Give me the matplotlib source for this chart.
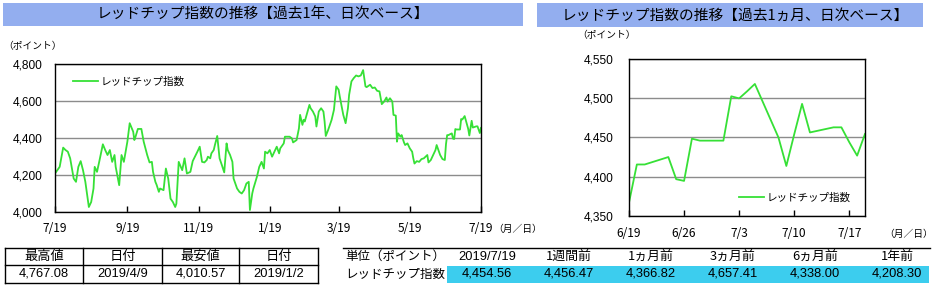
import datetime as dt
import matplotlib
matplotlib.use("Agg")
import matplotlib.pyplot as plt
from matplotlib.patches import Rectangle
from matplotlib.lines import Line2D
from matplotlib.ticker import FixedLocator, FuncFormatter

plt.rcParams['font.family'] = ['Noto Sans CJK JP', 'DejaVu Sans']

# ---------------- data ----------------
series_name = 'レッドチップ指数'
title_year = 'レッドチップ指数の推移【過去1年、日次ベース】'
title_month = 'レッドチップ指数の推移【過去1ヵ月、日次ベース】'
unit_label = '（ポイント）'
date_unit_label = '（月／日）'

year_start = '2018-07-19'
year_day_offsets = [
    0, 4, 7, 9, 11, 13, 16, 18, 20, 22, 24, 26, 29, 31, 33, 34, 36, 38, 41, 43,
    45, 47, 49, 51, 52, 55, 57, 59, 62, 64, 67, 68, 69, 71, 74, 76, 79, 81, 83, 84,
    86, 87, 89, 90, 93, 95, 97, 99, 101, 103, 104, 106, 109, 111, 113, 116, 118, 122, 124,
    126, 128, 130, 131, 133, 134, 136, 137, 139, 141, 143, 145, 147, 148, 150, 152, 153, 156, 158, 160,
    162, 164, 166, 167, 169, 170, 173, 175, 177, 179, 180, 182, 184, 186, 188, 190, 192, 193, 196, 197,
    201, 203, 204, 207, 209, 210, 212, 213, 214, 216, 218, 219, 221, 223, 224, 226, 228, 230, 231, 232,
    234, 236, 237, 239, 240, 241, 243, 244,
    247, 249, 251, 252, 254, 256, 258, 260, 262, 264, 266, 267, 270, 272, 274, 276, 278, 280, 282, 284,
    285, 287, 289, 290, 292, 293, 294, 296, 297, 299, 300, 302, 304, 306, 307, 308, 310, 312, 314, 316,
    319, 320, 322, 324, 326, 327, 329, 330, 332, 334,
    335, 336, 337, 340, 341, 342, 343, 344, 347, 348, 349, 350, 351, 354, 355, 356, 357, 358, 361, 362,
    363, 364, 365]
year_values = [
    4208.30, 4244, 4348, 4335, 4326, 4290, 4181, 4163, 4244, 4275, 4226, 4163, 4027, 4054, 4127, 4244, 4217, 4275, 4366, 4335,
    4308, 4335, 4271, 4308, 4244, 4145, 4308, 4271, 4380, 4480, 4434, 4389, 4407, 4449, 4449, 4380, 4308, 4268, 4271, 4217,
    4163, 4148, 4109, 4127, 4118, 4235, 4181, 4072, 4054, 4027, 4045, 4271, 4226, 4290, 4208, 4217, 4275, 4326, 4353,
    4271, 4268, 4281, 4299, 4290, 4317, 4335, 4362, 4411, 4290, 4253, 4214, 4371, 4335, 4308, 4271, 4181, 4127, 4109, 4100,
    4118, 4154, 4163, 4010.57, 4100, 4127, 4190, 4244, 4271, 4235, 4326, 4317, 4335, 4299, 4326, 4353, 4317, 4344, 4371, 4407,
    4407, 4398, 4376, 4389, 4452, 4525, 4471, 4498, 4489, 4534, 4579, 4561, 4543, 4516, 4462, 4543, 4561, 4543, 4489, 4411,
    4443, 4480, 4498, 4552, 4615, 4679, 4661, 4624,
    4525, 4480, 4561, 4633, 4706, 4724, 4738, 4733, 4738, 4767.08, 4679, 4675, 4688, 4670, 4673, 4655, 4652, 4583, 4597, 4619,
    4597, 4615, 4597, 4525, 4521, 4380, 4425, 4407, 4416, 4376, 4362, 4371, 4344, 4326, 4290, 4262, 4275, 4271, 4286, 4290,
    4308, 4268, 4281, 4308, 4335, 4362, 4326, 4308, 4286, 4281,
    4366.82, 4415.5, 4415.5, 4425, 4396.7, 4394.5, 4448.5, 4446, 4446, 4502.7, 4500, 4509, 4518.5, 4450, 4413.6, 4454, 4493, 4456.47, 4463, 4463,
    4444, 4426.8, 4454.56]

month_dates = ['2019-06-19', '2019-06-20', '2019-06-21', '2019-06-24', '2019-06-25', '2019-06-26',
               '2019-06-27', '2019-06-28', '2019-07-01', '2019-07-02', '2019-07-03', '2019-07-04',
               '2019-07-05', '2019-07-08', '2019-07-09', '2019-07-10', '2019-07-11', '2019-07-12',
               '2019-07-15', '2019-07-16', '2019-07-17', '2019-07-18', '2019-07-19']
month_values = [4366.82, 4415.5, 4415.5, 4425, 4396.7, 4394.5,
                4448.5, 4446, 4446, 4502.7, 4500, 4509,
                4518.5, 4450, 4413.6, 4454, 4493, 4456.47,
                4463, 4463, 4444, 4426.8, 4454.56]

year_xticks = ['2018-07-19', '2018-09-19', '2018-11-19', '2019-01-19', '2019-03-19', '2019-05-19', '2019-07-19']
year_yticks = [4000, 4200, 4400, 4600, 4800]
month_xticks = ['2019-06-19', '2019-06-26', '2019-07-03', '2019-07-10', '2019-07-17']
month_xlim = ['2019-06-19', '2019-07-19']
month_yticks = [4350, 4400, 4450, 4500, 4550]

stats_headers = ['最高値', '日付', '最安値', '日付']
stats_values = ['4,767.08', '2019/4/9', '4,010.57', '2019/1/2']

cmp_row_header = '単位（ポイント）'
cmp_headers = ['2019/7/19', '1週間前', '1ヵ月前', '3ヵ月前', '6ヵ月前', '1年前']
cmp_values = [4454.56, 4456.47, 4366.82, 4657.41, 4338.00, 4208.30]

# ---------------- styles ----------------
W, H = 935, 287
GREEN = '#36E036'
BAR = '#93AEEF'
CYAN = '#3CCDEE'
GRID = '#8C8C8C'
NUMFONT = 'Liberation Sans'


def d(s):
    return dt.datetime.strptime(s, '%Y-%m-%d')


def fx(px):
    return px / W


def fy(py):
    return 1 - py / H


def md_fmt(v, pos=None):
    import matplotlib.dates as mdates
    t = mdates.num2date(v)
    return f'{t.month}/{t.day}'


fig = plt.figure(figsize=(W / 100, H / 100), dpi=100)

# title bars
for (x0, x1, y0, y1, txt, cx) in [(3, 523, 3, 26, title_year, 263),
                                   (537, 923, 3, 27, title_month, 735)]:
    fig.patches.append(Rectangle((fx(x0), fy(y1)), fx(x1 - x0), (y1 - y0) / H,
                                 transform=fig.transFigure, facecolor=BAR, edgecolor='none'))
    fig.text(fx(cx), fy((y0 + y1) / 2 + 0.5), txt, ha='center', va='center', fontsize=10.6, color='black')


def style_axes(ax, yticks, xticks, ylab_pad, xlab_pad):
    for sp in ax.spines.values():
        sp.set_color('black')
        sp.set_linewidth(1.0)
    ax.set_yticks(yticks)
    ax.set_yticklabels([f'{v:,}' for v in yticks], fontfamily=NUMFONT, fontsize=8.6)
    ax.yaxis.grid(True, color=GRID, linewidth=1.0)
    ax.set_axisbelow(True)
    ax.tick_params(axis='y', length=0, pad=ylab_pad)
    ax.xaxis.set_major_locator(FixedLocator([matplotlib.dates.date2num(d(s)) for s in xticks]))
    ax.xaxis.set_major_formatter(FuncFormatter(md_fmt))
    ax.tick_params(axis='x', direction='in', length=4, width=1, pad=xlab_pad, labelsize=8.6)
    ax.set_facecolor('white')


# ---------------- year chart ----------------
ax1 = fig.add_axes([fx(55), fy(212), (481 - 55) / W, (212 - 64) / H])
base = d(year_start)
ydates = [base + dt.timedelta(days=o) for o in year_day_offsets]
ax1.plot(ydates, year_values, color=GREEN, linewidth=1.3, label=series_name)
ax1.set_xlim(d(year_xticks[0]), d(year_xticks[-1]))
ax1.set_ylim(year_yticks[0], year_yticks[-1])
style_axes(ax1, year_yticks, year_xticks, ylab_pad=9, xlab_pad=7)
ax1.legend(loc='center left', bbox_to_anchor=((73 - 55) / 426, (212 - 82) / 148), frameon=False,
           fontsize=7.6, handlelength=2.4, handletextpad=0.25, borderpad=0, borderaxespad=0)
fig.text(fx(3), fy(46), unit_label, fontsize=7, ha='left', va='center')
fig.text(fx(493), fy(229), date_unit_label, fontsize=7, ha='left', va='center')

# ---------------- month chart ----------------
ax2 = fig.add_axes([fx(629), fy(215.7), (865 - 629) / W, (215.7 - 59.3) / H])
mdates_list = [d(s) for s in month_dates]
ax2.plot(mdates_list, month_values, color=GREEN, linewidth=1.3, label=series_name)
ax2.set_xlim(d(month_xlim[0]), d(month_xlim[1]))
ax2.set_ylim(month_yticks[0], month_yticks[-1])
style_axes(ax2, month_yticks, month_xticks, ylab_pad=11, xlab_pad=8)
ax2.legend(loc='center left', bbox_to_anchor=((739 - 629) / 236, (215.7 - 197.3) / 156.4), frameon=False,
           fontsize=7.6, handlelength=2.4, handletextpad=0.25, borderpad=0, borderaxespad=0)
fig.text(fx(577), fy(35), unit_label, fontsize=7, ha='left', va='center')
fig.text(fx(884), fy(234), date_unit_label, fontsize=7, ha='left', va='center')

# ---------------- stats table (left) ----------------
cols = [5, 83.3, 161.7, 239.3, 318.3]
rows = [247.5, 265, 282.5]
for y in rows:
    fig.add_artist(Line2D([fx(cols[0]), fx(cols[-1])], [fy(y), fy(y)], color='black', lw=1.0))
for x in cols:
    fig.add_artist(Line2D([fx(x), fx(x)], [fy(rows[0]), fy(rows[-1])], color='black', lw=1.0))
for i in range(4):
    cx = (cols[i] + cols[i + 1]) / 2
    fig.text(fx(cx), fy((rows[0] + rows[1]) / 2), stats_headers[i], ha='center', va='center', fontsize=9.5)
    fig.text(fx(cx), fy((rows[1] + rows[2]) / 2), stats_values[i], ha='center', va='center',
             fontsize=9.3, fontfamily=NUMFONT)

# ---------------- comparison table (right) ----------------
fig.add_artist(Line2D([fx(343), fx(930)], [fy(247.5), fy(247.5)], color='black', lw=1.0))
fig.patches.append(Rectangle((fx(447), fy(282.5)), fx(929 - 447), (282.5 - 265.5) / H,
                             transform=fig.transFigure, facecolor=CYAN, edgecolor='none'))
fig.text(fx(395), fy(256.5), cmp_row_header, ha='center', va='center', fontsize=9.0)
fig.text(fx(395), fy(274), series_name, ha='center', va='center', fontsize=9.0)
for i, (h, v) in enumerate(zip(cmp_headers, cmp_values)):
    cx = 487 + 82 * i
    if h[0].isdigit() and '/' in h:
        fig.text(fx(cx), fy(256.5), h, ha='center', va='center', fontsize=9.3, fontfamily=NUMFONT)
    else:
        fig.text(fx(cx), fy(256.5), h, ha='center', va='center', fontsize=9.3)
    fig.text(fx(cx), fy(274), f'{v:,.2f}', ha='center', va='center', fontsize=9.3, fontfamily=NUMFONT)

fig.savefig('out.png', dpi=100)
